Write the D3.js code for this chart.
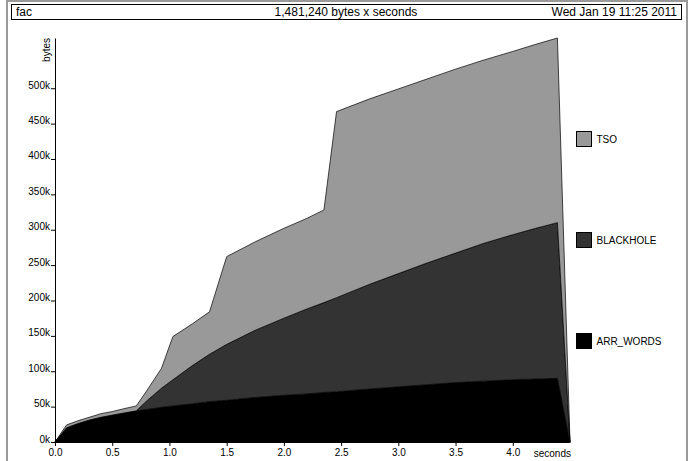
<!DOCTYPE html>
<html>
<head>
<meta charset="utf-8">
<script src="https://cdnjs.cloudflare.com/ajax/libs/d3/7.8.5/d3.min.js"></script>
<style>
body { margin: 0; background: #fff; }
svg { display: block; font-family: "Liberation Sans", Arial, sans-serif; }
</style>
</head>
<body>
<div id="chart"></div>
<script>
// sample times (seconds) and heap usage per band (kbytes)
var times     = [0, 0.1, 0.2, 0.3, 0.4, 0.5, 0.6, 0.71, 0.8, 0.93, 1.03, 1.2, 1.35, 1.5, 1.75, 2.0, 2.2, 2.35, 2.46, 2.75, 3.0, 3.25, 3.5, 3.75, 4.0, 4.2, 4.39, 4.5];
var arrWords  = [0, 20, 26, 31, 35, 38, 41, 44, 46, 49, 51, 54, 57, 59, 63, 66, 68, 70, 71, 75, 78, 81, 84, 86, 88, 89, 90, 0];
var blackhole = [0, 0, 0, 0, 0, 0, 0, 0, 12, 27, 37, 54, 67, 79, 95, 109, 120, 127, 133, 148, 160, 172, 183, 195, 205, 213, 220, 0];
var tso       = [0, 4, 4, 4, 5, 5, 6, 7, 14, 28, 61, 59, 60, 124, 125, 127, 128, 131, 263, 262, 261, 260, 260, 259, 259, 260, 261, 0];

var bandNames = ["ARR_WORDS", "BLACKHOLE", "TSO"];
var bandColors = ["#000000", "#333333", "#999999"];
var yTicks = [0, 50, 100, 150, 200, 250, 300, 350, 400, 450, 500];
var xTicks = [0, 0.5, 1.0, 1.5, 2.0, 2.5, 3.0, 3.5, 4.0];

var svgWidth = 688;
var svgHeight = 461;

var svg = d3.select("#chart")
    .append("svg")
    .attr("width", svgWidth)
    .attr("height", svgHeight);

// outer frame and title box
svg.append("rect")
    .attr("x", 7).attr("y", 1)
    .attr("width", 680).attr("height", 500)
    .attr("fill", "none")
    .attr("stroke", "#999")
    .attr("stroke-width", 2);

svg.append("rect")
    .attr("x", 11.5).attr("y", 4.5)
    .attr("width", 670).attr("height", 15)
    .attr("fill", "#fff")
    .attr("stroke", "#000")
    .attr("stroke-width", 1);

svg.append("text").attr("x", 16).attr("y", 16)
    .attr("font-size", 12).text("fac");
svg.append("text").attr("x", 346).attr("y", 16)
    .attr("font-size", 12).attr("text-anchor", "middle")
    .text("1,481,240 bytes x seconds");
svg.append("text").attr("x", 677).attr("y", 16)
    .attr("font-size", 12).attr("text-anchor", "end")
    .text("Wed Jan 19 11:25 2011");

// scales
var x = d3.scaleLinear().domain([0, 4.5]).range([55, 570]);
var y = d3.scaleLinear().domain([0, 571]).range([442, 38]);

// stacked bands
var rows = times.map(function (t, i) {
    return { t: t, ARR_WORDS: arrWords[i], BLACKHOLE: blackhole[i], TSO: tso[i] };
});

var stacked = d3.stack().keys(bandNames)(rows);

var area = d3.area()
    .x(function (d) { return x(d.data.t); })
    .y0(function (d) { return y(d[0]); })
    .y1(function (d) { return y(d[1]); });

svg.append("g")
    .selectAll("path")
    .data(stacked)
    .enter()
    .append("path")
    .attr("d", area)
    .attr("fill", function (d, i) { return bandColors[i]; })
    .attr("stroke", "#000")
    .attr("stroke-width", 0.7)
    .attr("stroke-linejoin", "round");

// y axis
var yAxis = svg.append("g")
    .attr("transform", "translate(55,0)")
    .call(d3.axisLeft(y).tickValues(yTicks).tickSize(4).tickSizeOuter(0).tickPadding(1)
        .tickFormat(function (d) { return d + "k"; }));
yAxis.selectAll("text").attr("dy", 0).attr("font-size", 10).attr("font-family", null).attr("fill", "#000");
yAxis.select(".domain").attr("stroke", "#000");

svg.append("text")
    .attr("transform", "translate(50,38) rotate(-90)")
    .attr("text-anchor", "end")
    .attr("font-size", 10)
    .text("bytes");

// x axis
var xAxis = svg.append("g")
    .attr("transform", "translate(0,442)")
    .call(d3.axisBottom(x).tickValues(xTicks).tickSize(4).tickSizeOuter(0).tickPadding(3)
        .tickFormat(d3.format(".1f")));
xAxis.selectAll("text").attr("font-size", 10).attr("font-family", null).attr("fill", "#000");
xAxis.select(".domain").attr("stroke", "#000");

svg.append("text")
    .attr("x", 571).attr("y", 457)
    .attr("text-anchor", "end")
    .attr("font-size", 10)
    .text("seconds");

// legend, top band first
var legendY = [131, 232, 333];
var legend = svg.append("g")
    .selectAll("g")
    .data(bandNames.slice().reverse())
    .enter()
    .append("g")
    .attr("transform", function (d, i) { return "translate(576.5," + (legendY[i] + 0.5) + ")"; });

legend.append("rect")
    .attr("width", 15).attr("height", 15)
    .attr("fill", function (d) { return bandColors[bandNames.indexOf(d)]; })
    .attr("stroke", "#000")
    .attr("stroke-width", 1);

legend.append("text")
    .attr("x", 20).attr("y", 11)
    .attr("font-size", 10)
    .text(function (d) { return d; });
</script>
</body>
</html>
